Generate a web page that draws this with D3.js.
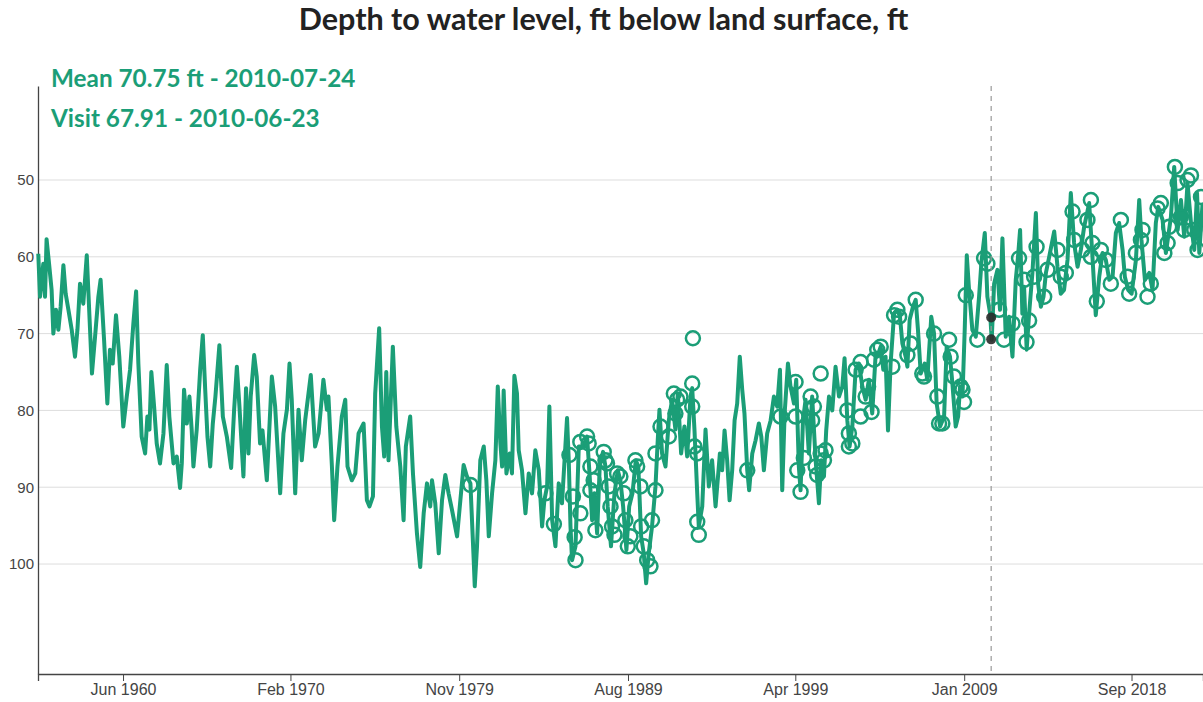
<!DOCTYPE html>
<meta charset="utf-8">
<style>
body { margin: 0; background: #fff; }
.title { font-family: Lato, "Open Sans", sans-serif; font-weight: bold; font-size: 30.5px; fill: #222; }
.legend text { font-family: Lato, "Open Sans", sans-serif; font-weight: bold; font-size: 24.3px; fill: #1b9e77; }
.axis text { font-family: "Liberation Sans", Arial, sans-serif; fill: #444; }
.axis path, .axis line { stroke: #444; }
.grid line { stroke: #ddd; stroke-width: 1; }
</style>
<body>
<script src="https://d3js.org/d3.v7.min.js"></script>
<script>
var width = 1203, height = 702;
var margin = {top: 86, right: 0, bottom: 28, left: 38};

var titleText = "Depth to water level, ft below land surface, ft";
var yTicks = [50, 60, 70, 80, 90, 100];
var xTickDates = ["1960-06-01", "1970-02-01", "1979-11-01", "1989-08-01", "1999-04-01", "2009-01-01", "2018-09-01"];
var meanValue = 70.75, meanDate = "2010-07-24";
var visitValue = 67.91, visitDate = "2010-06-23";

// daily mean depth, [decimal year, ft below surface]
var dailyMeans = [
  [1955.52,59.6],[1955.62,65.2],[1955.81,60.9],[1955.91,65.2],[1956.0,57.7],[1956.16,61.3],[1956.29,64.3],[1956.39,70.0],[1956.54,66.9],[1956.68,69.5],[1956.81,66.5],[1956.97,61.1],[1957.1,64.8],[1957.26,66.9],[1957.45,69.5],[1957.64,73.0],[1957.78,69.5],[1957.93,63.5],[1958.12,66.1],[1958.32,59.8],[1958.51,69.5],[1958.62,75.2],[1958.8,70.4],[1958.99,65.2],[1959.12,63.0],[1959.32,70.8],[1959.51,79.1],[1959.66,72.1],[1959.82,73.9],[1960.01,67.6],[1960.2,73.0],[1960.43,82.1],[1960.63,78.2],[1960.82,74.7],[1961.01,68.7],[1961.17,64.5],[1961.3,73.9],[1961.49,83.4],[1961.69,85.6],[1961.82,80.8],[1961.94,82.5],[1962.05,75.0],[1962.21,79.5],[1962.36,84.3],[1962.55,86.9],[1962.75,83.0],[1962.94,74.1],[1963.09,80.8],[1963.33,86.9],[1963.52,86.0],[1963.71,90.1],[1963.81,86.9],[1963.94,77.3],[1964.1,81.7],[1964.25,78.2],[1964.38,82.5],[1964.48,87.3],[1964.67,82.5],[1964.87,74.7],[1965.02,70.2],[1965.16,77.3],[1965.29,83.4],[1965.45,87.3],[1965.6,81.7],[1965.75,78.2],[1965.98,71.5],[1966.18,80.8],[1966.41,83.4],[1966.66,87.5],[1966.83,80.0],
  [1966.99,74.3],[1967.14,79.5],[1967.37,88.6],[1967.52,77.1],[1967.66,85.6],[1967.79,78.2],[1967.99,72.8],[1968.14,75.6],[1968.33,84.3],[1968.47,82.6],[1968.72,89.1],[1969.01,75.6],[1969.2,79.5],[1969.49,90.8],[1969.68,83.0],[1969.88,79.9],[1970.03,73.9],[1970.16,78.6],[1970.36,90.8],[1970.55,79.9],[1970.74,86.5],[1970.94,81.2],[1971.26,75.4],[1971.51,84.7],[1971.71,83.0],[1971.99,76.0],[1972.19,79.9],[1972.28,78.2],[1972.48,87.3],[1972.61,94.3],[1972.8,87.3],[1973.05,80.8],[1973.25,78.6],[1973.38,87.3],[1973.63,89.1],[1973.83,88.2],[1974.02,83.0],[1974.31,81.7],[1974.5,91.7],[1974.65,92.5],[1974.85,91.2],[1974.98,77.8],[1975.21,69.3],[1975.37,82.1],[1975.5,86.0],[1975.62,75.0],[1975.75,86.5],[1976.0,71.7],[1976.2,82.1],[1976.43,87.3],[1976.62,94.3],[1976.75,84.7],[1977.0,80.8],[1977.16,88.2],[1977.39,96.0],[1977.58,100.4],[1977.78,93.4],[1977.97,89.5],[1978.16,92.5],
  [1978.26,89.1],[1978.45,92.1],[1978.65,98.6],[1978.84,91.7],[1979.03,88.4],[1979.22,90.8],[1979.42,93.0],[1979.71,96.4],[1979.9,91.7],[1980.09,87.1],[1980.28,88.6],[1980.48,89.5],[1980.67,99.5],[1980.73,102.9],[1980.86,97.7],[1981.05,86.5],[1981.25,84.7],[1981.4,89.1],[1981.54,96.4],[1981.73,90.8],[1981.92,86.5],[1982.06,76.9],[1982.21,84.3],[1982.31,87.3],[1982.4,77.4],[1982.56,88.2],[1982.75,85.6],[1982.88,88.2],[1983.02,75.5],[1983.17,77.8],[1983.27,85.2],[1983.46,87.8],[1983.66,93.4],[1983.85,88.2],[1984.04,90.8],[1984.23,85.2],[1984.43,87.8],[1984.62,95.1],[1984.75,91.7],[1984.91,89.9],[1985.04,79.5],[1985.2,94.3],[1985.39,97.7],[1985.58,89.5],[1985.77,92.1],[1986.06,81.0],[1986.16,86.5],[1986.26,95.1],[1986.35,99.5],[1986.55,97.7],[1986.74,84.7],
  [1987.02,84.7],[1987.22,83.4],[1987.37,88.6],[1987.51,94.3],[1987.64,90.8],[1987.8,96.0],[1987.95,87.3],[1988.14,85.4],[1988.28,87.3],[1988.41,92.5],[1988.6,97.7],[1988.8,90.8],[1988.99,87.8],[1989.14,89.1],[1989.3,92.5],[1989.49,98.2],[1989.65,92.5],[1989.84,90.8],[1990.03,86.5],[1990.18,87.3],[1990.34,96.4],[1990.49,98.6],[1990.63,102.5],[1990.78,98.6],[1990.97,95.1],[1991.17,89.9],[1991.3,83.9],[1991.4,79.9],[1991.55,85.6],[1991.75,87.3],[1991.94,81.3],[1992.13,78.6],[1992.32,82.5],[1992.46,77.8],[1992.65,85.6],[1992.84,82.1],[1993.0,86.0],[1993.19,78.2],[1993.29,77.1],[1993.42,82.5],[1993.58,90.8],[1993.67,95.1],[1993.87,92.5],[1994.06,82.5],[1994.25,89.9],[1994.44,86.5],[1994.64,92.5],[1994.89,85.6],
  [1995.02,87.8],[1995.16,82.6],[1995.31,86.5],[1995.45,91.7],[1995.6,87.8],[1995.74,81.3],[1995.89,79.1],[1996.04,73.0],[1996.18,77.3],[1996.31,80.4],[1996.47,87.8],[1996.58,90.4],[1996.76,85.6],[1996.95,83.9],[1997.14,81.7],[1997.28,83.4],[1997.43,87.8],[1997.62,83.0],[1997.82,81.3],[1998.01,78.2],[1998.2,79.5],[1998.36,74.7],[1998.49,90.4],[1998.63,80.4],[1998.82,73.9],[1998.97,76.9],[1999.17,79.1],[1999.3,76.0],[1999.45,87.3],[1999.55,90.4],[1999.69,81.3],[1999.84,78.6],[2000.03,85.6],[2000.22,78.2],[2000.42,86.5],[2000.61,92.1],[2000.74,86.5],[2000.9,88.6],[2001.03,82.6],[2001.19,78.2],[2001.38,80.0],[2001.57,74.3],[2001.77,78.2],[2001.96,76.9],[2002.09,73.2],[2002.25,81.3],[2002.38,84.7],[2002.54,82.1],[2002.73,74.7],[2002.92,73.9],[2003.12,76.9],[2003.31,78.6],[2003.5,76.0],[2003.69,80.4],[2003.89,72.6],
  [2003.98,73.0],[2004.18,71.7],[2004.33,74.7],[2004.46,73.0],[2004.6,82.6],[2004.75,73.9],[2004.95,67.4],[2005.14,66.9],[2005.29,67.8],[2005.43,71.3],[2005.62,73.0],[2005.72,74.3],[2005.85,68.2],[2006.04,66.5],[2006.2,65.6],[2006.33,69.5],[2006.49,75.2],[2006.72,73.9],[2006.87,76.0],[2007.1,67.8],[2007.26,70.0],[2007.41,79.1],[2007.61,82.1],[2007.84,80.8],[2007.99,71.7],[2008.18,73.0],[2008.32,76.5],[2008.51,82.1],[2008.65,80.8],[2008.76,76.9],[2008.9,78.2],[2009.03,69.5],[2009.15,59.8],[2009.28,64.3],[2009.47,69.5],[2009.67,70.4],[2009.86,65.2],[2010.0,60.6],[2010.19,56.9],[2010.34,65.2],[2010.5,67.4],[2010.59,70.8],[2010.73,63.5],[2010.92,61.7],[2011.07,66.9],[2011.21,57.6],[2011.4,70.4],[2011.59,67.8],[2011.79,73.0],[2011.98,63.0],[2012.11,60.0],[2012.23,56.5],[2012.36,67.4],[2012.46,63.9],[2012.61,72.1],[2012.75,67.4],[2012.94,62.1],
  [2013.14,54.3],[2013.27,63.5],[2013.43,66.5],[2013.58,65.2],[2013.72,62.1],[2013.91,60.0],[2014.2,56.7],[2014.39,61.3],[2014.58,64.8],[2014.77,64.3],[2014.97,60.4],[2015.16,51.7],[2015.35,58.2],[2015.55,61.3],[2015.74,59.1],[2015.93,56.1],[2016.22,53.0],[2016.41,60.0],[2016.6,67.6],[2016.8,62.6],[2016.99,59.5],[2017.18,60.4],[2017.38,63.0],[2017.57,62.6],[2017.76,56.9],[2017.95,55.6],[2018.15,59.1],[2018.28,62.6],[2018.47,64.3],[2018.67,64.8],[2018.92,60.4],[2019.11,52.6],[2019.24,57.8],[2019.44,63.0],[2019.69,62.1],[2019.88,64.3],[2020.07,55.6],[2020.21,53.5],[2020.46,55.2],[2020.65,59.5],[2020.94,54.8],[2021.13,48.3],[2021.33,56.5],[2021.52,52.6],[2021.71,57.4],[2021.9,50.4],[2022.1,55.6],[2022.29,59.1],[2022.45,51.7],[2022.58,59.5],[2022.77,53.0]
];

// field visit measurements, [decimal year, ft below surface]
var fieldVisits = [
  [1980.48,89.7],[1984.81,90.8],[1985.3,94.8],[1986.2,85.8],[1986.4,91.2],[1986.5,96.5],[1986.55,99.5],[1986.83,84.1],[1986.83,93.4],
  [1987.22,83.4],[1987.31,84.3],[1987.41,87.3],[1987.41,90.4],[1987.6,89.1],[1987.7,95.6],[1988.18,85.4],[1988.28,86.5],[1988.37,86.9],[1988.47,89.9],[1988.57,92.5],[1988.66,95.1],[1988.8,96.2],[1988.95,88.2],[1989.14,88.6],[1989.34,90.8],[1989.43,94.3],[1989.57,97.7],[1989.72,96.4],[1990.01,86.5],[1990.11,87.3],[1990.3,89.9],[1990.34,95.1],[1990.49,97.7],[1990.69,99.5],[1990.88,100.3],[1990.97,94.3],[1991.17,90.4],[1991.17,85.6],[1991.46,82.1],[1991.94,83.4],[1992.23,77.8],[1992.42,78.6],[1992.32,80.4],[1992.61,78.2],[1993.29,76.5],[1993.29,79.5],[1993.33,70.6],[1993.42,84.7],[1993.58,85.6],[1993.58,94.5],[1993.67,96.2],
  [1996.47,87.8],[1998.39,80.8],[1999.26,76.3],[1999.26,80.8],[1999.36,87.8],[1999.55,90.6],[1999.74,86.2],[2000.13,78.2],[2000.22,81.3],[2000.32,79.5],[2000.42,87.3],[2000.51,88.4],[2000.71,75.2],[2000.71,85.6],[2000.9,86.5],[2000.99,85.2],[2002.25,80.0],[2002.34,83.0],[2002.34,84.7],[2002.54,84.3],[2002.73,74.7],[2003.02,73.7],[2003.02,80.8],[2003.31,78.2],[2003.45,76.9],[2003.65,80.2],[2003.79,73.4],[2003.98,72.1],
  [2004.18,71.7],[2004.85,74.3],[2004.95,67.6],[2005.14,66.9],[2005.24,67.8],[2005.72,72.8],[2005.91,71.3],[2006.2,65.6],[2006.58,75.2],[2006.68,75.6],[2007.26,70.0],[2007.45,78.2],[2007.55,81.7],[2007.74,81.7],[2008.13,70.8],[2008.22,73.0],[2008.41,75.6],[2008.8,76.9],[2008.9,77.3],[2008.99,78.9],[2009.09,65.0],[2009.76,70.8],[2010.15,60.2],[2010.34,60.9],[2011.02,66.9],[2011.3,70.8],[2011.79,68.7],[2012.17,60.2],[2012.46,63.0],[2012.6,71.1],[2012.75,68.3],[2013.04,62.6],[2013.18,58.7],
  [2013.62,65.2],[2013.81,61.7],[2014.39,59.1],[2014.58,62.6],[2014.87,62.1],[2015.26,54.1],[2015.35,57.8],[2015.83,59.1],[2016.12,55.2],[2016.32,52.6],[2016.41,58.2],[2016.32,60.0],[2016.66,65.8],[2016.89,59.1],[2017.18,60.4],[2017.47,63.5],[2018.05,55.2],[2018.44,62.6],[2018.53,64.8],[2018.92,59.5],[2019.21,57.8],[2019.3,56.5],[2019.59,65.2],[2019.78,63.5],[2020.17,53.7],[2020.36,53.0],[2020.56,59.5],[2020.75,58.2],[2020.84,56.1],[2021.17,48.3],[2021.33,50.4],[2021.52,54.8],[2021.71,56.5],[2021.9,50.0],[2022.1,49.4],[2022.29,56.5],[2022.48,59.1],[2022.68,52.2]
];

var green = "#1b9e77";

function yearToDate(y) {
  var yr = Math.floor(y);
  var start = new Date(yr, 0, 1), end = new Date(yr + 1, 0, 1);
  return new Date(+start + (y - yr) * (end - start));
}
var parse = d3.timeParse("%Y-%m-%d");

var svg = d3.select("body")
  .append("svg")
  .attr("width", width)
  .attr("height", height);

var x = d3.scaleTime()
  .domain([new Date(1955, 6, 4), new Date(2022, 9, 18)])
  .range([margin.left, width - margin.right]);

// depth axis runs downward
var y = d3.scaleLinear()
  .domain([37.76, 114.32])
  .range([margin.top, height - margin.bottom]);

svg.append("text")
  .attr("class", "title")
  .attr("x", width / 2 + 2)
  .attr("y", 30)
  .attr("text-anchor", "middle")
  .text(titleText);

// gridlines
svg.append("g")
  .attr("class", "grid")
  .selectAll("line")
  .data(yTicks)
  .enter().append("line")
  .attr("x1", margin.left)
  .attr("x2", width - margin.right)
  .attr("y1", function(d) { return y(d); })
  .attr("y2", function(d) { return y(d); });

svg.append("g")
  .attr("class", "axis")
  .attr("transform", "translate(" + margin.left + ",0)")
  .call(d3.axisLeft(y).tickValues(yTicks).tickSize(0).tickPadding(4))
  .call(function(g) {
    g.select(".domain").attr("stroke-width", 1.3);
    g.selectAll("text").style("font-size", "15px");
  });

svg.append("g")
  .attr("class", "axis")
  .attr("transform", "translate(0," + (height - margin.bottom) + ")")
  .call(d3.axisBottom(x)
    .tickValues(xTickDates.map(parse))
    .tickFormat(d3.timeFormat("%b %Y"))
    .tickSizeOuter(0)
    .tickSize(7)
    .tickPadding(3))
  .call(function(g) {
    g.select(".domain").attr("stroke-width", 1.3);
    g.selectAll("text").style("font-size", "16px");
  });

var line = d3.line()
  .x(function(d) { return x(yearToDate(d[0])); })
  .y(function(d) { return y(d[1]); });

svg.append("path")
  .datum(dailyMeans)
  .attr("fill", "none")
  .attr("stroke", green)
  .attr("stroke-width", 4)
  .attr("stroke-linejoin", "round")
  .attr("d", line);

svg.append("g")
  .selectAll("circle")
  .data(fieldVisits)
  .enter().append("circle")
  .attr("cx", function(d) { return x(yearToDate(d[0])); })
  .attr("cy", function(d) { return y(d[1]); })
  .attr("r", 7)
  .attr("fill", "none")
  .attr("stroke", green)
  .attr("stroke-width", 2.5);

// selected date marker
svg.append("line")
  .attr("x1", x(parse(meanDate)))
  .attr("x2", x(parse(meanDate)))
  .attr("y1", margin.top)
  .attr("y2", height - margin.bottom)
  .attr("stroke", "#999")
  .attr("stroke-width", 1.2)
  .attr("stroke-dasharray", "5,5");

svg.append("g")
  .selectAll("circle")
  .data([visitValue, meanValue])
  .enter().append("circle")
  .attr("cx", x(parse(meanDate)))
  .attr("cy", function(d) { return y(d); })
  .attr("r", 5)
  .attr("fill", "#2a2a2a")
  .attr("fill-opacity", 0.9);

var legend = svg.append("g").attr("class", "legend");
legend.append("text")
  .attr("x", 51)
  .attr("y", 87)
  .text("Mean " + meanValue + " ft - " + meanDate);
legend.append("text")
  .attr("x", 51)
  .attr("y", 127)
  .text("Visit " + visitValue + " - " + visitDate);
</script>
</body>
